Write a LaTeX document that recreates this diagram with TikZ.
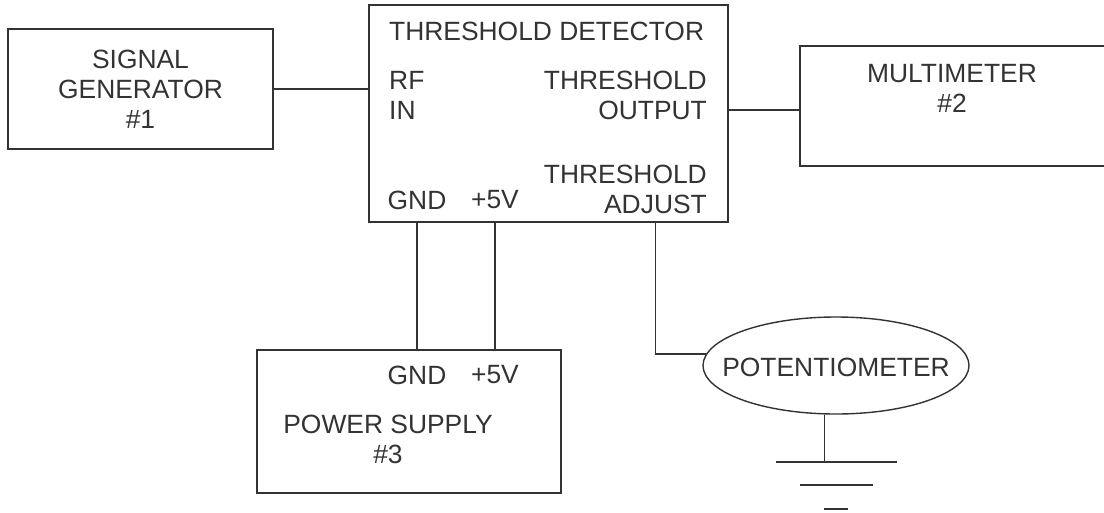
\documentclass[tikz,border=0pt]{standalone}
\usepackage{fontspec}
\setmainfont{Liberation Sans}
\usepackage{xcolor}
\usetikzlibrary{shapes.geometric,calc}
\definecolor{ink}{HTML}{333333}

\begin{document}
\begin{tikzpicture}[
    x=1pt, y=-1pt,
    box/.style={rectangle, draw=ink, line width=1.4pt, inner sep=0pt, align=center, text=ink, font=\fontsize{26.4}{30}\selectfont},
    lbl/.style={inner sep=0pt, text=ink, font=\fontsize{26.4}{30}\selectfont},
    wire/.style={draw=ink, line width=1.4pt}
]
    \path [fill=white] (0,0) rectangle (1104,512);
    \useasboundingbox (0,0) rectangle (1104,512);

    \node [box, minimum width=265pt, minimum height=120pt] (sg) at (140.5,89) {SIGNAL\\GENERATOR\\\#1};
    \node [box, minimum width=359pt, minimum height=217pt] (td) at (548.5,113.5) {};
    \node [box, minimum width=308pt, minimum height=120pt] (mm) at (954,106) {};
    \node [box, minimum width=304pt, minimum height=143pt] (ps) at (409,421.5) {};
    \node [box, ellipse, minimum width=266pt, minimum height=97pt] (pot) at (836,365.5) {};

    \node [lbl, anchor=west] (tdname) at (389,31) {THRESHOLD DETECTOR};
    \node [lbl, anchor=west, align=left] (tdrf) at (389,95) {RF\\IN};
    \node [lbl, anchor=east, align=right] (tdout) at (707,95) {THRESHOLD\\OUTPUT};
    \node [lbl, anchor=east] (tdthr) at (707,174) {THRESHOLD};
    \node [lbl, anchor=east] (tdadj) at (707,204) {ADJUST};
    \node [lbl] (tdgnd) at (417,200) {GND};
    \node [lbl] (td5v) at (495,200) {+5V};

    \node [lbl, align=center] (mmname) at (952,88) {MULTIMETER\\\#2};

    \node [lbl] (psgnd) at (417,375) {GND};
    \node [lbl] (ps5v) at (495,375) {+5V};
    \node [lbl, align=center] (psname) at (388,439) {POWER SUPPLY\\\#3};

    \node [lbl] (potname) at (836,367) {POTENTIOMETER};

    \draw [wire] (sg.east) -- (sg.east -| td.west);
    \coordinate (outpin) at (td.east |- 0,110);
    \draw [wire] (outpin) -- (outpin -| mm.west);
    \draw [wire] (tdgnd |- td.south) -- (psgnd |- ps.north);
    \draw [wire] (td5v |- td.south) -- (ps5v |- ps.north);
    \draw [wire] (tdadj |- td.south) |- (pot.175);

    % ground symbol
    \coordinate (gnd) at (pot.south |- 0,462);
    \draw [wire] (pot.257) -- (pot.257 |- gnd);
    \foreach \w/\d in {60.5/0, 36.5/23, 12/47}
        \draw [wire] ([shift={(-\w,\d)}]gnd) -- ([shift={(\w,\d)}]gnd);
\end{tikzpicture}
\end{document}
